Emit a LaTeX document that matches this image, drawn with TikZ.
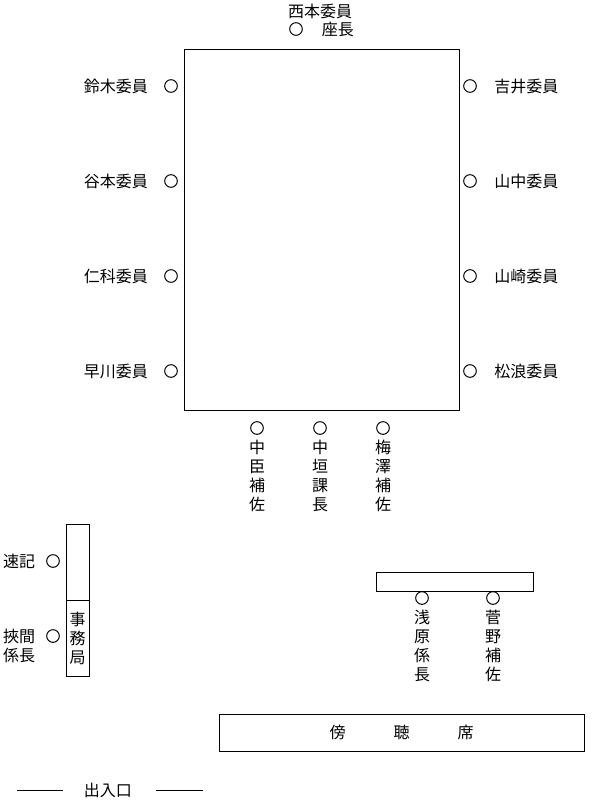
\documentclass[tikz,border=0pt]{standalone}
\usepackage{fontspec}
\setmainfont{Noto Sans CJK JP}
\usetikzlibrary{positioning}
\tikzset{
  seat/.style    = {circle, draw, line width=0.75pt, minimum size=9.5pt, inner sep=0pt},
  who/.style     = {inner sep=0pt, font=\fontsize{12}{14.25}\selectfont},
  whocol/.style  = {who, align=center},
  desk/.style    = {draw, line width=0.75pt},
}
\begin{document}
\begin{tikzpicture}[x=0.75pt,y=-0.75pt]
  \useasboundingbox (0,0) rectangle (600,808);
  % committee table
  \draw[desk] (184,49) rectangle (459,410);
  \node[seat] (chair) at (296,29) {};
  \node[who,right=14pt of chair] (chairt) {座長};
  \node[who] (nishimoto) at (320,11) {西本委員};
  \foreach \y/\n [count=\i] in {86/鈴木委員,181/谷本委員,276/仁科委員,371/早川委員} {
    \node[seat] (l\i) at (171,\y) {};
    \node[who,left=12pt of l\i] (lt\i) {\n};
  }
  \foreach \y/\n [count=\i] in {86/吉井委員,181/山中委員,276/山崎委員,371/松浪委員} {
    \node[seat] (r\i) at (470,\y) {};
    \node[who,right=13pt of r\i] (rt\i) {\n};
  }
  % government side
  \foreach \x/\n [count=\i] in {257/中\\臣\\補\\佐,320/中\\垣\\課\\長,383/梅\\澤\\補\\佐} {
    \node[seat] (b\i) at (\x,428) {};
    \node[whocol,below=4pt of b\i] (bt\i) {\n};
  }
  % secretariat
  \draw[desk] (66,524) rectangle (89,676);
  \draw[desk] (66,600) -- (89,600);
  \node[whocol] (office) at (77.5,638) {事\\務\\局};
  \node[seat] (sokki) at (53,561) {};
  \node[who,left=8pt of sokki] (sokkit) {速記};
  \node[seat] (hasama) at (53,636) {};
  \node[whocol,left=8pt of hasama,yshift=-7.5pt] (hasamat) {挾間\\係長};
  % staff desk
  \draw[desk] (376,572) rectangle (533,591);
  \foreach \x/\n [count=\i] in {422/浅\\原\\係\\長,493/菅\\野\\補\\佐} {
    \node[seat] (s\i) at (\x,598) {};
    \node[whocol,below=4pt of s\i] (st\i) {\n};
  }
  % gallery
  \node[desk,minimum width=273.75pt,minimum height=27.75pt,inner sep=0pt] (gallery) at (401.5,732.5) {};
  \node[who] (galleryt) at (gallery) {傍　　　聴　　　席};
  % entrance
  \node[who] (door) at (108,790) {出入口};
  \coordinate (dl) at (17,790);
  \coordinate (dr) at (203,790);
  \draw[line width=0.75pt] (dl) -- ++(46,0);
  \draw[line width=0.75pt] (dr) -- ++(-47,0);
\end{tikzpicture}
\end{document}
